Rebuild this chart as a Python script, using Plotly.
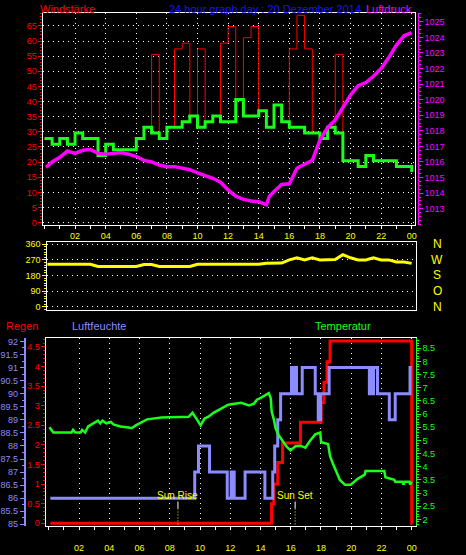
import plotly.graph_objects as go

W, H = 466, 555
def px(x): return x / W
def py(y): return 1 - y / H

FONT = "Liberation Sans"

# ---------------- data ----------------
HOURS = [i * 0.5 for i in range(49)]
X_TICKS = list(range(2, 25, 2))
X_LABELS = ["02", "04", "06", "08", "10", "12", "14", "16", "18", "20", "22", "00"]

# wind (km/h), half-hour steps
WIND_AVG = [27.8, 25.9, 27.8, 25.9, 29.6, 27.8, 27.8, 22.2, 25.9, 24.1, 24.1, 24.1,
            27.8, 31.5, 29.6, 27.8, 31.5, 31.5, 33.3, 35.2, 31.5, 33.3, 35.2, 33.3,
            33.3, 40.7, 35.2, 35.2, 37.0, 31.5, 38.9, 33.3, 31.5, 31.5, 29.6, 29.6,
            27.8, 31.5, 29.6, 20.4, 20.4, 18.5, 22.2, 20.4, 20.4, 20.4, 18.5, 18.5, 16.7]
WIND_GUST = [27.8, 25.9, 27.8, 25.9, 29.6, 27.8, 27.8, 22.2, 25.9, 24.1, 24.1, 24.1,
             27.8, 31.5, 55.6, 27.8, 31.5, 57.4, 59.3, 35.2, 57.4, 33.3, 35.2, 59.3,
             64.8, 40.7, 61.1, 64.8, 37.0, 31.5, 38.9, 33.3, 57.4, 68.5, 57.4, 29.6,
             27.8, 31.5, 55.6, 20.4, 20.4, 18.5, 22.2, 20.4, 20.4, 20.4, 18.5, 18.5, 16.7]
WIND_TICKS = list(range(0, 70, 5))

# pressure (hPa)
P_T = [0.1, 0.5, 1.0, 1.5, 2.0, 2.5, 3.0, 3.5, 4.0, 4.5, 5.0, 5.5, 6.0, 6.5, 7.0, 7.5,
       8.0, 8.5, 9.0, 9.5, 10.0, 10.5, 11.0, 11.5, 12.0, 12.5, 13.0, 13.5, 14.0, 14.5,
       14.7, 15.0, 15.5, 16.0, 16.5, 17.0, 17.5, 18.0, 18.5, 19.0, 19.5, 20.0, 20.5,
       21.0, 21.5, 22.0, 22.5, 23.0, 23.5, 24.0]
P_V = [1015.65, 1016.0, 1016.3, 1016.7, 1016.55, 1016.75, 1016.8, 1016.55, 1016.5,
       1016.55, 1016.6, 1016.5, 1016.35, 1016.1, 1016.0, 1015.8, 1015.7, 1015.7, 1015.6,
       1015.5, 1015.3, 1015.15, 1014.95, 1014.7, 1014.2, 1013.8, 1013.6, 1013.5, 1013.45,
       1013.25, 1013.8, 1014.1, 1014.55, 1014.6, 1015.6, 1015.85, 1016.1, 1017.4, 1018.2,
       1018.7, 1019.5, 1020.3, 1020.9, 1021.1, 1021.5, 1022.0, 1022.7, 1023.5, 1024.1, 1024.3]
P_TICKS = list(range(1013, 1026))

# wind direction (deg)
DIR_V = [245, 245, 245, 245, 245, 245, 245, 232, 232, 232, 232, 232, 232, 243, 243, 232,
         232, 232, 232, 232, 245, 245, 245, 245, 245, 245, 245, 245, 245, 250, 250, 252,
         270, 282, 270, 282, 270, 270, 272, 300, 282, 270, 270, 282, 270, 270, 258, 258, 250]
DIR_TICKS = [0, 90, 180, 270, 360]
COMPASS = ["N", "O", "S", "W", "N"]

# humidity (%)
HUM_T = [0.1, 9.65, 9.9, 10.63, 11.8, 12.06, 12.26, 12.98, 14.29, 14.81, 14.94, 15.14,
         15.33, 16.05, 16.12, 16.17, 16.24, 16.3, 16.38, 16.76, 17.62, 17.82, 17.98, 18.54,
         21.2, 21.26, 21.31, 21.37, 21.42, 21.48, 21.74, 22.52, 22.91, 23.89, 24.0]
HUM_V = [86, 87, 88, 87, 86, 87, 86, 87, 86, 87, 88, 89, 90, 91, 90, 91, 90, 91, 90, 91,
         90, 89, 90, 91, 90, 91, 90, 91, 90, 91, 90, 89, 90, 91, 91]
HUM_TICKS = [85 + 0.5 * i for i in range(15)]

# rain (mm)
RAIN_T = [0.1, 14.73, 14.88, 15.14, 15.46, 16.64, 18.01, 18.2, 18.4, 18.6, 24.0, 24.05]
RAIN_V = [0, 0.5, 1.0, 1.55, 2.05, 2.58, 3.08, 3.6, 4.12, 4.65, 0, 0]
RAIN_TICKS = [0.5 * i for i in range(10)]

# temperature (deg C)
TEMP_T = [0.04, 0.3, 1.5, 1.6, 1.75, 2.1, 2.2, 2.4, 2.6, 3.25, 3.4, 3.55, 3.8, 4.1, 4.3,
          4.75, 5.5, 5.75, 6.5, 7.45, 9.25, 9.5, 9.76, 10.04, 10.3, 10.56, 10.89, 11.41,
          11.87, 12.72, 13.24, 13.57, 13.76, 14.02, 14.35, 14.55, 14.68, 14.74, 14.88, 15.0,
          15.2, 15.53, 15.73, 15.98, 16.31, 16.64, 16.97, 17.29, 17.62, 17.95, 18.01, 18.47,
          18.6, 18.8, 18.99, 19.25, 19.58, 19.97, 20.43, 20.89, 20.95, 22.19, 22.26, 22.85,
          22.91, 23.4, 23.45, 23.55, 23.85, 23.9, 24.0]
TEMP_V = [5.5, 5.3, 5.3, 5.4, 5.3, 5.3, 5.4, 5.3, 5.53, 5.75, 5.65, 5.75, 5.65, 5.7, 5.6,
          5.53, 5.47, 5.57, 5.8, 5.87, 5.9, 6.05, 5.83, 5.57, 5.83, 5.9, 6.05, 6.2,
          6.36, 6.43, 6.33, 6.4, 6.55, 6.62, 6.74, 6.8, 6.6, 6.1, 5.8, 5.46,
          5.2, 4.95, 4.76, 4.62, 4.78, 4.8, 4.72, 5.0, 5.23, 5.3, 4.93, 4.86,
          4.4, 4.1, 3.84, 3.5, 3.32, 3.32, 3.54, 3.7, 3.84, 3.84, 3.6, 3.5,
          3.43, 3.43, 3.32, 3.43, 3.43, 3.32, 3.43]
TEMP_TICKS = [2 + 0.5 * i for i in range(14)]

SUN_RISE = 8.54
SUN_SET = 16.29

# ---------------- colours ----------------
RED = "#ff0000"
GREEN = "#19ff19"
MAGENTA = "#ff00ff"
YELLOW = "#ffff00"
LAV = "#8c8cff"
BLUE = "#1414ff"
DOT = "1px,4px"

def fmt(v):
    return f"{v:g}"

fig = go.Figure()

# ---- top panel ----
fig.add_trace(go.Scatter(x=HOURS, y=WIND_GUST, mode="lines", line=dict(color=RED, width=1, shape="hv"),
                         xaxis="x", yaxis="y", name="Böen"))
fig.add_trace(go.Scatter(x=HOURS, y=WIND_AVG, mode="lines", line=dict(color=GREEN, width=3, shape="hv"),
                         xaxis="x", yaxis="y", name="Wind"))
fig.add_trace(go.Scatter(x=P_T, y=P_V, mode="lines", line=dict(color=MAGENTA, width=3.5),
                         xaxis="x", yaxis="y2", name="Luftdruck"))
# ---- direction panel ----
fig.add_trace(go.Scatter(x=HOURS, y=DIR_V, mode="lines", line=dict(color=YELLOW, width=3),
                         xaxis="x2", yaxis="y3", name="Richtung"))
# ---- bottom panel (rain is the base axis y4) ----
fig.add_trace(go.Scatter(x=RAIN_T, y=RAIN_V, mode="lines", line=dict(color=RED, width=3, shape="hv"),
                         xaxis="x3", yaxis="y4", name="Regen"))
fig.add_trace(go.Scatter(x=HUM_T, y=HUM_V, mode="lines", line=dict(color=LAV, width=3, shape="hv"),
                         xaxis="x3", yaxis="y5", name="Luftfeuchte"))
fig.add_trace(go.Scatter(x=TEMP_T, y=TEMP_V, mode="lines", line=dict(color=GREEN, width=2.5),
                         xaxis="x3", yaxis="y6", name="Temperatur"))

layout = dict(
    width=W, height=H, margin=dict(l=0, r=0, t=0, b=0),
    paper_bgcolor="black", plot_bgcolor="black", showlegend=False,
    font=dict(family=FONT, color="white"),
    # top panel
    xaxis=dict(domain=[px(40), px(416)], range=[-0.065, 24.19], anchor="y",
               tickmode="array", tickvals=X_TICKS, ticktext=X_LABELS,
               tickfont=dict(family=FONT, size=9, color=YELLOW), ticks="outside", ticklen=3,
               tickcolor="white",
               minor=dict(dtick=1, tick0=0, ticks="outside", ticklen=3, tickcolor="white"),
               showgrid=True, gridcolor="white", griddash=DOT, gridwidth=1,
               showline=True, linecolor="white", linewidth=1, mirror=True, zeroline=False),
    yaxis=dict(domain=[py(224), py(10)], range=[-0.65, 69.3], anchor="x",
               tickmode="array", tickvals=WIND_TICKS, ticktext=[fmt(v) for v in WIND_TICKS],
               tickfont=dict(family=FONT, size=9, color=RED), ticks="outside", ticklen=4, tickcolor=RED,
               minor=dict(dtick=1, tick0=0, ticks="outside", ticklen=2, tickcolor=RED),
               showgrid=True, gridcolor="white", griddash=DOT, gridwidth=1,
               showline=True, linecolor="white", linewidth=1, mirror=True, zeroline=False),
    yaxis2=dict(overlaying="y", side="right", anchor="free", position=px(419),
                range=[1011.98, 1025.57], tickmode="array", tickvals=P_TICKS,
                ticktext=[str(v) for v in P_TICKS],
                tickfont=dict(family=FONT, size=9, color=MAGENTA), ticks="outside", ticklen=4,
                tickcolor=MAGENTA,
                minor=dict(dtick=0.25, tick0=0, ticks="outside", ticklen=2, tickcolor=MAGENTA),
                showgrid=False, showline=True, linecolor=MAGENTA, linewidth=1, zeroline=False),
    # direction panel
    xaxis2=dict(domain=[px(44), px(417)], range=[0.19, 24.26], anchor="y3",
                showticklabels=False, ticks="", showgrid=False,
                showline=True, linecolor="white", linewidth=1, mirror=True, zeroline=False),
    yaxis3=dict(domain=[py(310), py(242)], range=[-17, 371], anchor="x2",
                tickmode="array", tickvals=DIR_TICKS, ticktext=[str(v) for v in DIR_TICKS],
                tickfont=dict(family=FONT, size=9, color=YELLOW), ticks="outside", ticklen=4,
                tickcolor=YELLOW,
                minor=dict(dtick=15, tick0=0, ticks="outside", ticklen=2, tickcolor=YELLOW),
                showgrid=True, gridcolor="white", griddash=DOT, gridwidth=1,
                showline=True, linecolor="white", linewidth=1, mirror=True, zeroline=False),
    # bottom panel
    xaxis3=dict(domain=[px(43), px(417)], range=[-0.157, 24.26], anchor="y4",
                tickmode="array", tickvals=X_TICKS, ticktext=X_LABELS,
                tickfont=dict(family=FONT, size=9, color=YELLOW), ticks="outside", ticklen=13,
                tickcolor="rgba(0,0,0,0)",
                minor=dict(dtick=1, tick0=0, ticks="outside", ticklen=3, tickcolor="white"),
                showgrid=True, gridcolor="white", griddash=DOT, gridwidth=1,
                showline=True, linecolor="white", linewidth=1, mirror=True, zeroline=False),
    yaxis4=dict(domain=[py(529), py(339)], range=[-0.076, 4.72], anchor="x3", side="left",
                tickmode="array", tickvals=RAIN_TICKS, ticktext=[fmt(v) for v in RAIN_TICKS],
                tickfont=dict(family=FONT, size=9, color=RED), ticks="outside", ticklen=4,
                tickcolor=RED,
                minor=dict(dtick=0.1, tick0=0, ticks="outside", ticklen=2, tickcolor=RED),
                showgrid=False,
                showline=True, linecolor="white", linewidth=1, mirror=True, zeroline=False),
    yaxis5=dict(overlaying="y4", side="left", anchor="free", position=px(21),
                range=[84.924, 92.12], tickmode="array", tickvals=HUM_TICKS,
                ticktext=[fmt(v) for v in HUM_TICKS],
                tickfont=dict(family=FONT, size=9, color=LAV), ticks="outside", ticklen=4,
                tickcolor=LAV,
                minor=dict(dtick=0.25, tick0=0, ticks="outside", ticklen=2, tickcolor=LAV),
                showgrid=False, showline=True, linecolor=LAV, linewidth=2, zeroline=False),
    yaxis6=dict(overlaying="y4", side="right", anchor="x3",
                range=[1.737, 8.88], tickmode="array", tickvals=TEMP_TICKS,
                ticktext=[fmt(v) for v in TEMP_TICKS],
                tickfont=dict(family=FONT, size=9, color=GREEN), ticks="outside", ticklen=4,
                tickcolor=GREEN,
                minor=dict(dtick=0.1, tick0=0, ticks="outside", ticklen=2, tickcolor=GREEN),
                showgrid=False, showline=True, linecolor=GREEN, linewidth=1, zeroline=False),
    # hidden helper axis carrying the bottom panel's horizontal dotted grid
    yaxis7=dict(overlaying="y4", side="left", anchor="x3", range=[-0.109, 10.27],
                tickmode="linear", dtick=1, tick0=0, showticklabels=False, ticks="",
                showgrid=True, gridcolor="white", griddash=DOT, gridwidth=1,
                showline=False, zeroline=False),
)
fig.update_layout(**layout)

ann = []
def label(text, x, y, color, anchor="left", size=11):
    ann.append(dict(text=text, x=px(x), y=py(y), xref="paper", yref="paper",
                    xanchor=anchor, yanchor="middle", showarrow=False,
                    font=dict(family=FONT, size=size, color=color)))

label("Windstärke", 34, 6, RED)
label("24 hour graph day : 20 Dezember 2014", 264, 6, BLUE, anchor="center")
label("Luftdruck", 415, 6, MAGENTA, anchor="right")
label("Regen", 0, 327, RED)
label("Luftfeuchte", 67, 327, LAV)
label("Temperatur", 313, 327, GREEN)

for v, t in zip(DIR_TICKS, COMPASS):
    ann.append(dict(text=t, x=px(439), y=v, xref="paper", yref="y3", xanchor="center",
                    yanchor="middle", showarrow=False,
                    font=dict(family=FONT, size=12, color=YELLOW)))

for t, name in [(SUN_RISE, "Sun Rise"), (SUN_SET, "Sun Set")]:
    ann.append(dict(text=name, x=t, y=py(498), xref="x3", yref="paper", xanchor="center",
                    yanchor="middle", showarrow=False,
                    font=dict(family=FONT, size=10, color=YELLOW)))

shapes = []
for t in [SUN_RISE, SUN_SET]:
    shapes.append(dict(type="line", xref="x3", yref="paper", x0=t, x1=t, y0=py(504), y1=py(511),
                       line=dict(color="white", width=1)))
    shapes.append(dict(type="line", xref="x3", yref="paper", x0=t, x1=t, y0=py(511), y1=py(528),
                       line=dict(color=YELLOW, width=1, dash="1px,2px")))

fig.update_layout(annotations=ann, shapes=shapes)
fig.write_html("out.html", config={"displayModeBar": False},
               post_script="document.body.style.margin='0px';document.body.style.padding='0px';")
